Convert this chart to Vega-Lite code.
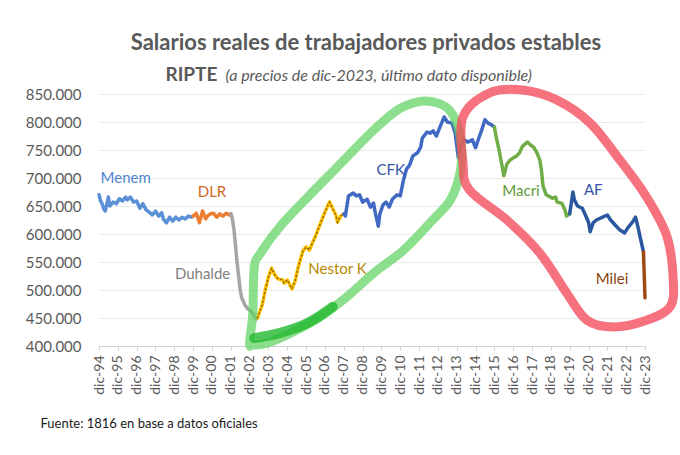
{
  "$schema": "https://vega.github.io/schema/vega-lite/v6.json",
  "width": 546,
  "height": 252,
  "autosize": {"type": "none"},
  "padding": {"left": 99, "top": 94, "right": 35, "bottom": 109},
  "background": "white",
  "config": {"view": {"stroke": null}, "font": "Lato", "axisX": {"labelOverlap": false, "labelSeparation": 0, "labelFlush": false, "labelBound": false, "tickCount": 40}},
  "title": {"text": "Salarios reales de trabajadores privados estables", "anchor": "middle", "frame": "group", "font": "Lato", "fontSize": 22, "fontWeight": "bold", "color": "#595959", "offset": 10, "dx": -6},
  "datasets": {
    "main": [
      {"p":"Menem","d":"1994-12","v":670000},{"p":"Menem","d":"1995-01","v":659000},{"p":"Menem","d":"1995-02","v":654000},{"p":"Menem","d":"1995-03","v":645000},{"p":"Menem","d":"1995-04","v":641000},{"p":"Menem","d":"1995-06","v":666000},{"p":"Menem","d":"1995-07","v":650000},{"p":"Menem","d":"1995-09","v":657000},{"p":"Menem","d":"1995-11","v":654000},{"p":"Menem","d":"1996-01","v":663000},{"p":"Menem","d":"1996-03","v":659000},{"p":"Menem","d":"1996-05","v":666000},{"p":"Menem","d":"1996-06","v":661000},{"p":"Menem","d":"1996-08","v":666000},{"p":"Menem","d":"1996-10","v":657000},{"p":"Menem","d":"1996-12","v":659000},{"p":"Menem","d":"1997-02","v":646000},{"p":"Menem","d":"1997-04","v":654000},{"p":"Menem","d":"1997-06","v":643000},{"p":"Menem","d":"1997-08","v":639000},{"p":"Menem","d":"1997-10","v":634000},{"p":"Menem","d":"1997-12","v":641000},{"p":"Menem","d":"1998-02","v":632000},{"p":"Menem","d":"1998-04","v":638000},{"p":"Menem","d":"1998-05","v":627000},{"p":"Menem","d":"1998-07","v":620000},{"p":"Menem","d":"1998-09","v":630000},{"p":"Menem","d":"1998-11","v":623000},{"p":"Menem","d":"1999-01","v":630000},{"p":"Menem","d":"1999-03","v":625000},{"p":"Menem","d":"1999-05","v":630000},{"p":"Menem","d":"1999-07","v":627000},{"p":"Menem","d":"1999-09","v":632000},{"p":"Menem","d":"1999-11","v":630000},{"p":"Menem","d":"1999-12","v":632000},
      {"p":"DLR","d":"1999-12","v":632000},{"p":"DLR","d":"2000-02","v":637000},{"p":"DLR","d":"2000-04","v":620000},{"p":"DLR","d":"2000-06","v":641000},{"p":"DLR","d":"2000-08","v":627000},{"p":"DLR","d":"2000-09","v":632000},{"p":"DLR","d":"2000-11","v":636000},{"p":"DLR","d":"2001-01","v":637000},{"p":"DLR","d":"2001-03","v":630000},{"p":"DLR","d":"2001-05","v":636000},{"p":"DLR","d":"2001-07","v":632000},{"p":"DLR","d":"2001-09","v":637000},{"p":"DLR","d":"2001-11","v":634000},{"p":"DLR","d":"2001-12","v":636000},
      {"p":"Duhalde","d":"2001-12","v":636000},{"p":"Duhalde","d":"2002-01","v":627000},{"p":"Duhalde","d":"2002-02","v":607000},{"p":"Duhalde","d":"2002-03","v":580000},{"p":"Duhalde","d":"2002-04","v":550000},{"p":"Duhalde","d":"2002-05","v":525000},{"p":"Duhalde","d":"2002-06","v":500000},{"p":"Duhalde","d":"2002-07","v":486000},{"p":"Duhalde","d":"2002-09","v":473000},{"p":"Duhalde","d":"2002-11","v":466000},{"p":"Duhalde","d":"2003-01","v":462000},{"p":"Duhalde","d":"2003-03","v":454000},{"p":"Duhalde","d":"2003-04","v":448000},{"p":"Duhalde","d":"2003-05","v":450000},
      {"p":"Nestor K","d":"2003-05","v":450000},{"p":"Nestor K","d":"2003-08","v":473000},{"p":"Nestor K","d":"2003-10","v":500000},{"p":"Nestor K","d":"2003-12","v":523000},{"p":"Nestor K","d":"2004-02","v":539000},{"p":"Nestor K","d":"2004-04","v":527000},{"p":"Nestor K","d":"2004-06","v":520000},{"p":"Nestor K","d":"2004-09","v":518000},{"p":"Nestor K","d":"2004-10","v":512000},{"p":"Nestor K","d":"2004-12","v":518000},{"p":"Nestor K","d":"2005-03","v":502000},{"p":"Nestor K","d":"2005-05","v":516000},{"p":"Nestor K","d":"2005-07","v":541000},{"p":"Nestor K","d":"2005-10","v":570000},{"p":"Nestor K","d":"2005-12","v":577000},{"p":"Nestor K","d":"2006-02","v":571000},{"p":"Nestor K","d":"2006-04","v":584000},{"p":"Nestor K","d":"2006-06","v":596000},{"p":"Nestor K","d":"2006-08","v":611000},{"p":"Nestor K","d":"2006-10","v":625000},{"p":"Nestor K","d":"2006-12","v":639000},{"p":"Nestor K","d":"2007-02","v":652000},{"p":"Nestor K","d":"2007-03","v":657000},{"p":"Nestor K","d":"2007-05","v":645000},{"p":"Nestor K","d":"2007-07","v":634000},{"p":"Nestor K","d":"2007-08","v":621000},{"p":"Nestor K","d":"2007-10","v":632000},{"p":"Nestor K","d":"2007-12","v":636000},
      {"p":"CFK","d":"2007-12","v":636000},{"p":"CFK","d":"2008-01","v":632000},{"p":"CFK","d":"2008-03","v":668000},{"p":"CFK","d":"2008-06","v":673000},{"p":"CFK","d":"2008-08","v":668000},{"p":"CFK","d":"2008-10","v":670000},{"p":"CFK","d":"2008-12","v":657000},{"p":"CFK","d":"2009-03","v":662000},{"p":"CFK","d":"2009-05","v":648000},{"p":"CFK","d":"2009-07","v":655000},{"p":"CFK","d":"2009-08","v":639000},{"p":"CFK","d":"2009-10","v":614000},{"p":"CFK","d":"2009-11","v":636000},{"p":"CFK","d":"2010-01","v":652000},{"p":"CFK","d":"2010-03","v":657000},{"p":"CFK","d":"2010-05","v":648000},{"p":"CFK","d":"2010-07","v":662000},{"p":"CFK","d":"2010-10","v":670000},{"p":"CFK","d":"2010-12","v":668000},{"p":"CFK","d":"2011-02","v":696000},{"p":"CFK","d":"2011-04","v":716000},{"p":"CFK","d":"2011-06","v":723000},{"p":"CFK","d":"2011-08","v":739000},{"p":"CFK","d":"2011-11","v":745000},{"p":"CFK","d":"2012-01","v":755000},{"p":"CFK","d":"2012-02","v":771000},{"p":"CFK","d":"2012-05","v":782000},{"p":"CFK","d":"2012-07","v":780000},{"p":"CFK","d":"2012-09","v":784000},{"p":"CFK","d":"2012-11","v":775000},{"p":"CFK","d":"2013-01","v":789000},{"p":"CFK","d":"2013-04","v":809000},{"p":"CFK","d":"2013-06","v":800000},{"p":"CFK","d":"2013-09","v":798000},{"p":"CFK","d":"2013-11","v":780000},{"p":"CFK","d":"2014-01","v":736000},{"p":"CFK","d":"2014-03","v":761000},{"p":"CFK","d":"2014-05","v":768000},{"p":"CFK","d":"2014-07","v":764000},{"p":"CFK","d":"2014-10","v":768000},{"p":"CFK","d":"2014-12","v":754000},{"p":"CFK","d":"2015-02","v":771000},{"p":"CFK","d":"2015-04","v":786000},{"p":"CFK","d":"2015-06","v":804000},{"p":"CFK","d":"2015-08","v":798000},{"p":"CFK","d":"2015-10","v":795000},{"p":"CFK","d":"2015-12","v":791000},
      {"p":"Macri","d":"2015-12","v":791000},{"p":"Macri","d":"2016-01","v":775000},{"p":"Macri","d":"2016-03","v":750000},{"p":"Macri","d":"2016-05","v":720000},{"p":"Macri","d":"2016-06","v":704000},{"p":"Macri","d":"2016-08","v":725000},{"p":"Macri","d":"2016-10","v":732000},{"p":"Macri","d":"2016-12","v":736000},{"p":"Macri","d":"2017-02","v":739000},{"p":"Macri","d":"2017-04","v":745000},{"p":"Macri","d":"2017-06","v":757000},{"p":"Macri","d":"2017-09","v":764000},{"p":"Macri","d":"2017-11","v":759000},{"p":"Macri","d":"2018-01","v":755000},{"p":"Macri","d":"2018-03","v":746000},{"p":"Macri","d":"2018-05","v":732000},{"p":"Macri","d":"2018-06","v":714000},{"p":"Macri","d":"2018-07","v":686000},{"p":"Macri","d":"2018-09","v":670000},{"p":"Macri","d":"2019-01","v":664000},{"p":"Macri","d":"2019-03","v":666000},{"p":"Macri","d":"2019-04","v":657000},{"p":"Macri","d":"2019-07","v":655000},{"p":"Macri","d":"2019-09","v":643000},{"p":"Macri","d":"2019-10","v":632000},{"p":"Macri","d":"2019-12","v":636000},
      {"p":"AF","d":"2019-12","v":636000},{"p":"AF","d":"2020-01","v":655000},{"p":"AF","d":"2020-02","v":675000},{"p":"AF","d":"2020-03","v":661000},{"p":"AF","d":"2020-05","v":650000},{"p":"AF","d":"2020-08","v":646000},{"p":"AF","d":"2020-10","v":634000},{"p":"AF","d":"2020-12","v":621000},{"p":"AF","d":"2021-01","v":604000},{"p":"AF","d":"2021-03","v":620000},{"p":"AF","d":"2021-05","v":625000},{"p":"AF","d":"2021-09","v":630000},{"p":"AF","d":"2021-12","v":634000},{"p":"AF","d":"2022-02","v":625000},{"p":"AF","d":"2022-05","v":616000},{"p":"AF","d":"2022-08","v":607000},{"p":"AF","d":"2022-11","v":602000},{"p":"AF","d":"2023-01","v":611000},{"p":"AF","d":"2023-04","v":621000},{"p":"AF","d":"2023-06","v":630000},{"p":"AF","d":"2023-08","v":607000},{"p":"AF","d":"2023-09","v":593000},{"p":"AF","d":"2023-11","v":568000},
      {"p":"Milei","d":"2023-11","v":568000},{"p":"Milei","d":"2023-12","v":486000}
    ],
    "labels": [
      {"p":"Menem","d":"1996-05","v":700000},
      {"p":"DLR","d":"2000-12","v":675000},
      {"p":"Duhalde","d":"2000-06","v":529000},
      {"p":"Nestor K","d":"2007-08","v":537000},
      {"p":"CFK","d":"2010-06","v":714000},
      {"p":"Macri","d":"2017-05","v":677000},
      {"p":"AF","d":"2021-03","v":679000},
      {"p":"Milei","d":"2022-03","v":520000}
    ],
    "shapes": [
      {"s":"verde","i":1,"d":"2002-12","v":405000},{"s":"verde","i":2,"d":"2003-02","v":459000},{"s":"verde","i":3,"d":"2003-03","v":541000},{"s":"verde","i":4,"d":"2003-07","v":566000},{"s":"verde","i":5,"d":"2004-07","v":612000},{"s":"verde","i":6,"d":"2006-01","v":666000},{"s":"verde","i":7,"d":"2007-08","v":720000},{"s":"verde","i":8,"d":"2009-05","v":780000},{"s":"verde","i":9,"d":"2010-10","v":821000},{"s":"verde","i":10,"d":"2011-11","v":836000},{"s":"verde","i":11,"d":"2012-09","v":836000},{"s":"verde","i":12,"d":"2013-06","v":825000},{"s":"verde","i":13,"d":"2013-12","v":798000},{"s":"verde","i":14,"d":"2014-03","v":755000},{"s":"verde","i":15,"d":"2014-02","v":709000},{"s":"verde","i":16,"d":"2013-08","v":661000},{"s":"verde","i":17,"d":"2012-07","v":620000},{"s":"verde","i":18,"d":"2011-02","v":571000},{"s":"verde","i":19,"d":"2009-07","v":530000},{"s":"verde","i":20,"d":"2008-02","v":488000},{"s":"verde","i":21,"d":"2006-09","v":452000},{"s":"verde","i":22,"d":"2005-02","v":423000},{"s":"verde","i":23,"d":"2003-11","v":405000},{"s":"verde","i":24,"d":"2003-02","v":402000},
      {"s":"rojo","i":1,"d":"2014-04","v":809000},{"s":"rojo","i":2,"d":"2015-09","v":852000},{"s":"rojo","i":3,"d":"2017-06","v":857000},{"s":"rojo","i":4,"d":"2019-04","v":839000},{"s":"rojo","i":5,"d":"2021-01","v":798000},{"s":"rojo","i":6,"d":"2022-08","v":732000},{"s":"rojo","i":7,"d":"2024-01","v":666000},{"s":"rojo","i":8,"d":"2025-02","v":595000},{"s":"rojo","i":9,"d":"2025-06","v":518000},{"s":"rojo","i":10,"d":"2025-04","v":470000},{"s":"rojo","i":11,"d":"2024-01","v":446000},{"s":"rojo","i":12,"d":"2022-04","v":434000},{"s":"rojo","i":13,"d":"2020-11","v":446000},{"s":"rojo","i":14,"d":"2019-10","v":495000},{"s":"rojo","i":15,"d":"2018-05","v":566000},{"s":"rojo","i":16,"d":"2016-08","v":625000},{"s":"rojo","i":17,"d":"2014-08","v":679000},{"s":"rojo","i":18,"d":"2014-04","v":727000},
      {"s":"trazo","i":1,"d":"2003-03","v":414000},{"s":"trazo","i":2,"d":"2004-07","v":423000},{"s":"trazo","i":3,"d":"2006-01","v":441000},{"s":"trazo","i":4,"d":"2007-05","v":470000}
    ]
  },
  "resolve": {"scale": {"y": "independent", "color": "independent"}, "axis": {"y": "independent"}},
  "layer": [
    {
      "data": {"name": "main"},
      "mark": {"type": "line", "strokeWidth": 3.5, "strokeJoin": "round", "strokeCap": "round"},
      "encoding": {
        "x": {"field": "d", "type": "temporal",
          "scale": {"type": "utc", "domain": [{"year":1994,"month":12,"date":1,"utc":true},{"year":2023,"month":12,"date":1,"utc":true}]},
          "axis": {
            "values": [{"year":1994,"month":12,"date":1,"utc":true},{"year":1995,"month":12,"date":1,"utc":true},{"year":1996,"month":12,"date":1,"utc":true},{"year":1997,"month":12,"date":1,"utc":true},{"year":1998,"month":12,"date":1,"utc":true},{"year":1999,"month":12,"date":1,"utc":true},{"year":2000,"month":12,"date":1,"utc":true},{"year":2001,"month":12,"date":1,"utc":true},{"year":2002,"month":12,"date":1,"utc":true},{"year":2003,"month":12,"date":1,"utc":true},{"year":2004,"month":12,"date":1,"utc":true},{"year":2005,"month":12,"date":1,"utc":true},{"year":2006,"month":12,"date":1,"utc":true},{"year":2007,"month":12,"date":1,"utc":true},{"year":2008,"month":12,"date":1,"utc":true},{"year":2009,"month":12,"date":1,"utc":true},{"year":2010,"month":12,"date":1,"utc":true},{"year":2011,"month":12,"date":1,"utc":true},{"year":2012,"month":12,"date":1,"utc":true},{"year":2013,"month":12,"date":1,"utc":true},{"year":2014,"month":12,"date":1,"utc":true},{"year":2015,"month":12,"date":1,"utc":true},{"year":2016,"month":12,"date":1,"utc":true},{"year":2017,"month":12,"date":1,"utc":true},{"year":2018,"month":12,"date":1,"utc":true},{"year":2019,"month":12,"date":1,"utc":true},{"year":2020,"month":12,"date":1,"utc":true},{"year":2021,"month":12,"date":1,"utc":true},{"year":2022,"month":12,"date":1,"utc":true},{"year":2023,"month":12,"date":1,"utc":true}],
            "tickCount": 40,
            "labelExpr": "'dic-' + utcFormat(datum.value, '%y')",
            "labelAngle": -90, "labelFontSize": 14, "labelColor": "#595959", "labelFont": "Lato",
            "labelPadding": 5, "labelFlush": false, "labelOverlap": false, "labelBound": false,
            "tickColor": "#d0d0d0", "tickSize": 4, "domainColor": "#d0d0d0", "grid": false,
            "title": "Fuente: 1816 en base a datos oficiales", "titleFont": "Lato", "titleFontSize": 13, "titleFontWeight": "normal", "titleColor": "#1a1a1a",
            "titleAngle": 0, "titleAlign": "left", "titleBaseline": "alphabetic", "titleX": -59, "titleY": 81
          }
        },
        "y": {"field": "v", "type": "quantitative",
          "scale": {"domain": [400000, 850000], "nice": false, "zero": false},
          "axis": {
            "values": [400000,450000,500000,550000,600000,650000,700000,750000,800000,850000],
            "labelExpr": "replace(format(datum.value, ','), ',', '.')",
            "labelFontSize": 15, "labelColor": "#595959", "labelFont": "Lato", "labelPadding": 18,
            "ticks": false, "domain": false, "grid": true, "gridColor": "#ebebeb",
            "title": "RIPTE", "titleFont": "Lato", "titleFontSize": 19, "titleFontWeight": "bold", "titleColor": "#595959",
            "titleAngle": 0, "titleAlign": "left", "titleBaseline": "alphabetic", "titleX": 66, "titleY": -14
          }
        },
        "color": {"field": "p", "type": "nominal", "legend": null,
          "scale": {"domain": ["Menem","DLR","Duhalde","Nestor K","CFK","Macri","AF","Milei"],
                    "range": ["#5b8fd6","#ed7d31","#a5a5a5","#ffc000","#4169c4","#70ad47","#2b579f","#9e4a12"]}}
      }
    },
    {
      "data": {"name": "main"},
      "transform": [{"filter": "datum.p === 'Nestor K'"}],
      "mark": {"type": "line", "strokeWidth": 1.3, "color": "#7f6000", "strokeDash": [1.2, 3], "strokeCap": "round"},
      "encoding": {
        "x": {"field": "d", "type": "temporal"},
        "y": {"field": "v", "type": "quantitative", "scale": {"domain": [400000, 850000], "nice": false, "zero": false}, "axis": null}
      }
    },
    {
      "data": {"name": "labels"},
      "mark": {"type": "text", "font": "Lato", "fontSize": 15, "align": "center", "baseline": "middle"},
      "encoding": {
        "x": {"field": "d", "type": "temporal"},
        "y": {"field": "v", "type": "quantitative", "scale": {"domain": [400000, 850000], "nice": false, "zero": false},
          "axis": {"orient": "right", "labels": false, "ticks": false, "domain": false, "grid": false,
            "title": "(a precios de dic-2023, último dato disponible)", "titleFont": "Lato", "titleFontSize": 16, "titleFontStyle": "italic", "titleFontWeight": "normal", "titleColor": "#595959",
            "titleAngle": 0, "titleAlign": "left", "titleBaseline": "alphabetic", "titleX": -420, "titleY": -14}},
        "text": {"field": "p"},
        "color": {"field": "p", "type": "nominal", "legend": null,
          "scale": {"domain": ["Menem","DLR","Duhalde","Nestor K","CFK","Macri","AF","Milei"],
                    "range": ["#4f85cf","#d0651f","#808080","#b58a00","#3454a8","#5e9a3a","#3454a8","#8a3f10"]}}
      }
    },
    {
      "data": {"name": "shapes"},
      "transform": [{"filter": "datum.s === 'verde'"}],
      "mark": {"type": "line", "interpolate": "cardinal-closed", "strokeWidth": 9, "color": "#5fd35f", "opacity": 0.72, "strokeJoin": "round"},
      "encoding": {
        "x": {"field": "d", "type": "temporal"},
        "y": {"field": "v", "type": "quantitative", "scale": {"domain": [400000, 850000], "nice": false, "zero": false}, "axis": null},
        "order": {"field": "i", "type": "quantitative"}
      }
    },
    {
      "data": {"name": "shapes"},
      "transform": [{"filter": "datum.s === 'rojo'"}],
      "mark": {"type": "line", "interpolate": "cardinal-closed", "strokeWidth": 9, "color": "#f24a5a", "opacity": 0.78, "strokeJoin": "round"},
      "encoding": {
        "x": {"field": "d", "type": "temporal"},
        "y": {"field": "v", "type": "quantitative", "scale": {"domain": [400000, 850000], "nice": false, "zero": false}, "axis": null},
        "order": {"field": "i", "type": "quantitative"}
      }
    },
    {
      "data": {"name": "shapes"},
      "transform": [{"filter": "datum.s === 'trazo'"}],
      "mark": {"type": "line", "interpolate": "monotone", "strokeWidth": 10, "color": "#22b830", "opacity": 0.8, "strokeCap": "round"},
      "encoding": {
        "x": {"field": "d", "type": "temporal"},
        "y": {"field": "v", "type": "quantitative", "scale": {"domain": [400000, 850000], "nice": false, "zero": false}, "axis": null},
        "order": {"field": "i", "type": "quantitative"}
      }
    }
  ]
}
